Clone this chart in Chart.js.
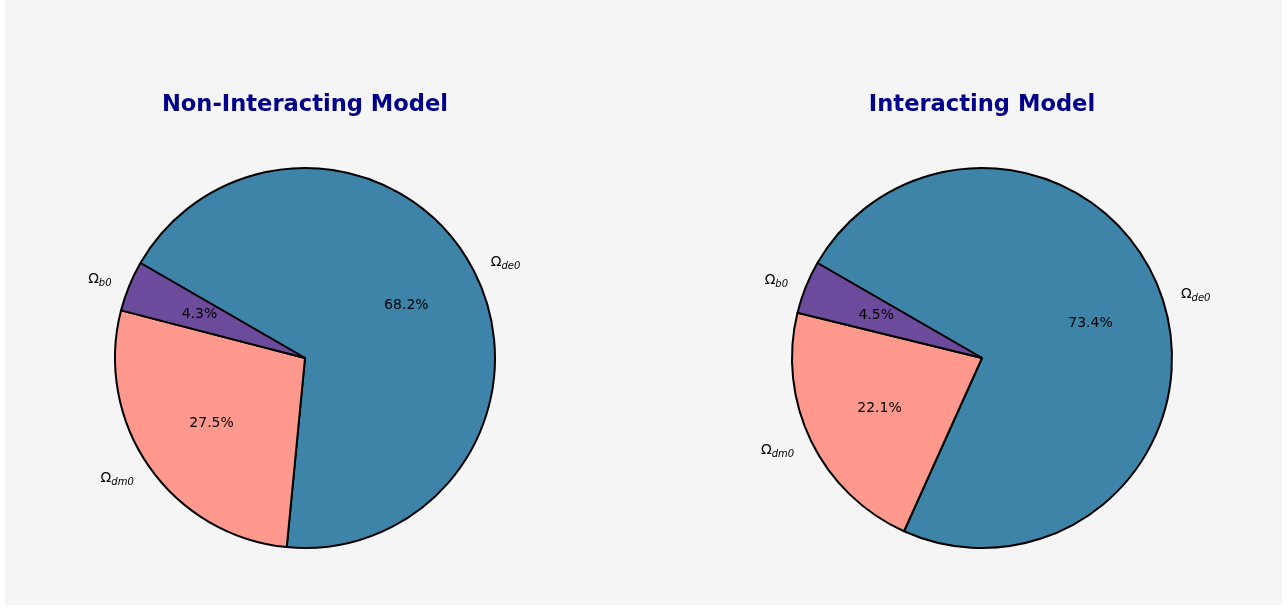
<!DOCTYPE html>
<html>
<head>
<meta charset="utf-8">
<script src="https://cdn.jsdelivr.net/npm/chart.js@4.4.1/dist/chart.umd.min.js"></script>
<style>
  body { margin: 0; background: #ffffff; width: 1288px; height: 609px; position: relative; overflow: hidden; }
  #panel { position: absolute; left: 5px; top: 0; width: 1277px; height: 605px; background: #f5f5f5; }
  canvas { position: absolute; top: 0; }
  #left { left: 0; }
  #right { left: 677px; }
</style>
</head>
<body>
<div id="panel"></div>
<canvas id="left" width="610" height="609"></canvas>
<canvas id="right" width="610" height="609"></canvas>
<script>
// order drawn clockwise from the upper-left edge
const componentNames = ['de0', 'dm0', 'b0'];
const nonInteractingShares = [68.2, 27.5, 4.3];
const interactingShares = [73.4, 22.1, 4.5];
const sliceColors = ['#3e84a8', '#ff998e', '#6c4b9c'];
const chartTitles = ['Non-Interacting Model', 'Interacting Model'];

const FONT = '"DejaVu Sans", sans-serif';

// draws title, outside Ω labels and percentages like matplotlib does
const pieText = {
    id: 'pieText',
    afterDraw(chart, args, opts) {
        const ctx = chart.ctx;
        const arcs = chart.getDatasetMeta(0).data;
        const values = chart.data.datasets[0].data;
        ctx.save();

        ctx.fillStyle = '#00008b';
        ctx.font = 'bold 22.6px ' + FONT;
        ctx.textAlign = 'center';
        ctx.textBaseline = 'middle';
        ctx.fillText(opts.title, arcs[0].x, 105);

        arcs.forEach((arc, i) => {
            const mid = (arc.startAngle + arc.endAngle) / 2;
            const r = arc.outerRadius;
            const cx = Math.cos(mid), cy = Math.sin(mid);

            // percentage
            ctx.fillStyle = '#000';
            ctx.font = '14px ' + FONT;
            ctx.textAlign = 'center';
            ctx.textBaseline = 'middle';
            ctx.fillText(values[i].toFixed(1) + '%', arc.x + cx * r * 0.6, arc.y + cy * r * 0.6);

            // label Ω_sub
            const lx = arc.x + cx * r * 1.1;
            const ly = arc.y + cy * r * 1.1;
            ctx.font = '14px ' + FONT;
            const wOmega = ctx.measureText('Ω').width;
            ctx.font = 'italic 10px ' + FONT;
            const wSub = ctx.measureText(componentNames[i]).width;
            const total = wOmega + wSub;
            const x0 = cx >= 0 ? lx : lx - total;
            ctx.textAlign = 'left';
            ctx.textBaseline = 'alphabetic';
            ctx.font = '14px ' + FONT;
            ctx.fillText('Ω', x0, ly + 4);
            ctx.font = 'italic 10px ' + FONT;
            ctx.fillText(componentNames[i], x0 + wOmega, ly + 7);
        });
        ctx.restore();
    }
};

function makePie(id, shares, title) {
    return new Chart(document.getElementById(id), {
        type: 'pie',
        data: {
            labels: componentNames,
            datasets: [{
                data: shares,
                backgroundColor: sliceColors,
                borderColor: '#000000',
                borderWidth: 2,
                radius: 190
            }]
        },
        options: {
            responsive: false,
            animation: false,
            rotation: -60,
            layout: { padding: { top: 107, bottom: 0, left: 0, right: 0 } },
            plugins: {
                legend: { display: false },
                tooltip: { enabled: false },
                pieText: { title: title }
            }
        },
        plugins: [pieText]
    });
}

makePie('left', nonInteractingShares, chartTitles[0]);
makePie('right', interactingShares, chartTitles[1]);
</script>
</body>
</html>
